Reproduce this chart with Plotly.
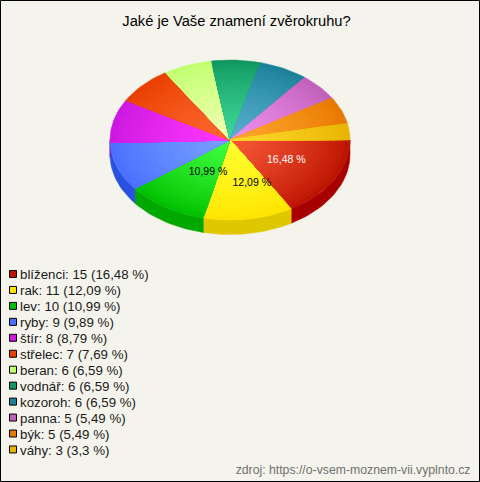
import math
import plotly.graph_objects as go

names = ["blíženci", "rak", "lev", "ryby", "štír", "střelec", "beran", "vodnář", "kozoroh", "panna", "býk", "váhy"]
counts = [15, 11, 10, 9, 8, 7, 6, 6, 6, 5, 5, 3]
percent_labels = ["16,48", "12,09", "10,99", "9,89", "8,79", "7,69", "6,59", "6,59", "6,59", "5,49", "5,49", "3,3"]
outer_colors = ["#bc1400", "#ffe400", "#00c000", "#4a70ff", "#cc18e0", "#e84000", "#c0ff70", "#109860", "#1c8098", "#c060b8", "#e87800", "#e8b400"]
inner_colors = ["#f85838", "#ffff30", "#40ff40", "#78a0ff", "#ff38ff", "#ff6830", "#f0ffb0", "#40d898", "#58b0d0", "#f090f0", "#ffa830", "#ffd830"]
side_colors = ["#a80000", "#e0c800", "#00a800", "#2a50e0", "#a000b0", "#c03000", "#a0e050", "#087848", "#106878", "#a04898", "#c86000", "#c89000"]
title = "Jaké je Vaše znamení zvěrokruhu?"
source = "zdroj: https://o-vsem-moznem-vii.vyplnto.cz"

BG = "#f5f4ec"
CX, CY, RX, RY, DEPTH = 230, 140, 120, 80, 14.5
RINGS = 24
LABEL_SCALE_X = [0.54, 1.17, 0.34]
LABEL_SCALE_Y = [0.51, 0.55, 0.48]
total = sum(counts)


def hex_rgb(c):
    return [int(c[i:i + 2], 16) for i in (1, 3, 5)]


def mix(a, b, t):
    ca, cb = hex_rgb(a), hex_rgb(b)
    return "rgb(%d,%d,%d)" % tuple(round(x + (y - x) * t) for x, y in zip(ca, cb))


def arc(t0, t1, scale=1.0, dy=0.0):
    n = max(2, int((t1 - t0) / 2) + 2)
    ts = [t0 + (t1 - t0) * i / (n - 1) for i in range(n)]
    return ([CX + RX * scale * math.cos(math.radians(t)) for t in ts],
            [CY + dy + RY * scale * math.sin(math.radians(t)) for t in ts])


fig = go.Figure()


def poly(xs, ys, color):
    fig.add_trace(go.Scatter(x=xs, y=ys, mode="lines", fill="toself", fillcolor=color,
                             line=dict(width=0.5, color=color), hoverinfo="skip", showlegend=False))


angle = 0.0
spans = []
for c in counts:
    spans.append((angle, angle + c / total * 360))
    angle += c / total * 360

# extruded rim, lower half only
for (a0, a1), color in zip(spans, side_colors):
    a1c = min(a1, 180)
    if a0 >= 180:
        continue
    x1, y1 = arc(a0, a1c)
    x2, y2 = arc(a0, a1c, dy=DEPTH)
    poly(x1 + x2[::-1] + [x1[0]], y1 + y2[::-1] + [y1[0]], color)

# top surface: nested wedges from the rim to the centre
for (a0, a1), oc, ic in zip(spans, outer_colors, inner_colors):
    for r in range(RINGS):
        s = 1 - r / RINGS
        xs, ys = arc(a0, a1, scale=s)
        poly([CX] + xs + [CX], [CY] + ys + [CY], mix(oc, ic, (r / (RINGS - 1)) ** 0.8))

# value labels on the three largest slices
lab_x, lab_y, lab_t, lab_c = [], [], [], []
for i in range(3):
    a0, a1 = spans[i]
    mid = math.radians((a0 + a1) / 2)
    lab_x.append(CX + RX * LABEL_SCALE_X[i] * math.cos(mid))
    lab_y.append(CY + RY * LABEL_SCALE_Y[i] * math.sin(mid))
    lab_t.append(percent_labels[i] + " %")
    lab_c.append("#ffffff" if i == 0 else "#000000")
fig.add_trace(go.Scatter(x=lab_x, y=lab_y, mode="text", text=lab_t, textposition="middle center",
                         textfont=dict(family="Liberation Sans", size=10.5, color=lab_c),
                         hoverinfo="skip", showlegend=False))

# legend
leg_y = [274 + i * 15.95 for i in range(len(names))]
fig.add_trace(go.Scatter(x=[13] * len(names), y=leg_y, mode="markers",
                         marker=dict(symbol="square", size=7, color=outer_colors, line=dict(width=1, color="#000000")),
                         hoverinfo="skip", showlegend=False))
fig.add_trace(go.Scatter(x=[20] * len(names), y=[y + 2 for y in leg_y], mode="text",
                         text=[f"{n}: {c} ({p} %)" for n, c, p in zip(names, counts, percent_labels)],
                         textposition="middle right",
                         textfont=dict(family="Liberation Sans", size=13.3, color="#1a1a1a"),
                         hoverinfo="skip", showlegend=False))
fig.add_trace(go.Scatter(x=[236.5], y=[22], mode="text", text=[title], textposition="middle center",
                         textfont=dict(family="Liberation Sans", size=14.7, color="#000000"),
                         hoverinfo="skip", showlegend=False))
fig.add_trace(go.Scatter(x=[470.5], y=[471], mode="text", text=[source], textposition="middle left",
                         textfont=dict(family="Liberation Sans", size=12.25, color="#707070"),
                         hoverinfo="skip", showlegend=False))

fig.update_layout(width=480, height=482, margin=dict(l=0, r=0, t=0, b=0), paper_bgcolor=BG, plot_bgcolor=BG,
                  showlegend=False,
                  xaxis=dict(range=[0, 480], visible=False, fixedrange=True),
                  yaxis=dict(range=[482, 0], visible=False, fixedrange=True),
                  shapes=[dict(type="rect", xref="x", yref="y", x0=0.5, y0=0.5, x1=479.5, y1=481.5,
                               line=dict(color="#000000", width=1))])
fig.write_html("out.html", config={"displayModeBar": False},
               post_script="document.body.style.margin='0';document.documentElement.style.overflow='hidden';")
